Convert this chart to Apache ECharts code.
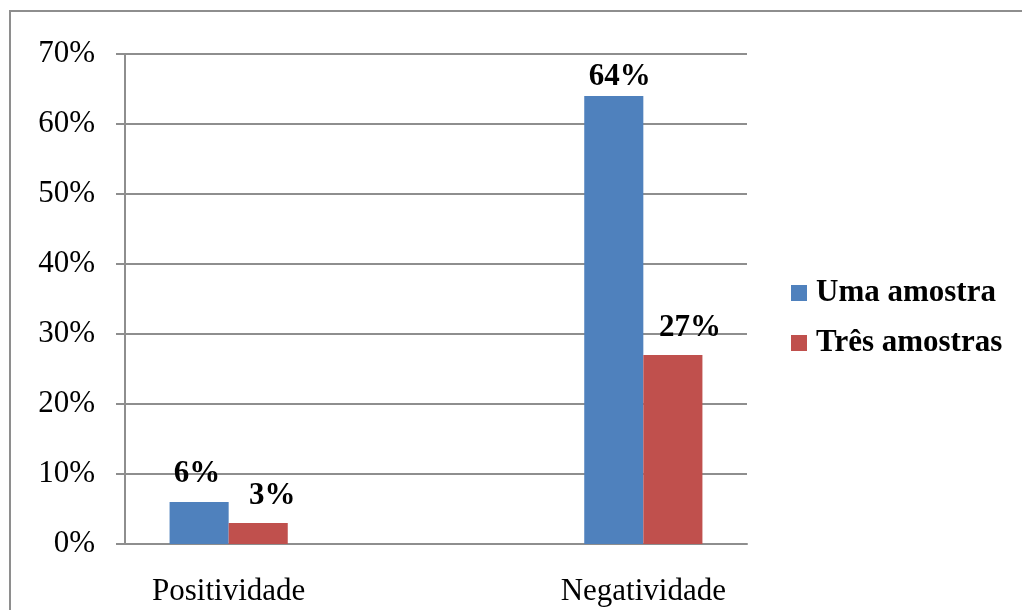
<!DOCTYPE html>
<html>
<head>
<meta charset="utf-8">
<script src="https://cdn.jsdelivr.net/npm/echarts@6/dist/echarts.min.js"></script>
<style>
  html, body { margin: 0; padding: 0; background: #fff; }
  #chart { width: 1022px; height: 610px; }
</style>
</head>
<body>
<div id="chart"></div>
<script>
// Categories (the middle slot is intentionally empty)
const categories = ['Positividade', '', 'Negatividade'];
// Percentages per series
const umaAmostra = [6, null, 64];
const tresAmostras = [3, null, 27];
const seriesNames = ['Uma amostra', 'Três amostras'];

const serif = '"Liberation Serif", "DejaVu Serif", serif';
const gridColor = '#8e8e8e';
const colors = ['#4f81bd', '#c0504d'];

// Hand-placed value labels: [dx, dy] nudges per bar
const labelNudges = [
  [[-2, -9], null, [6, 0]],
  [[14, -8], null, [17, -8]]
];

const chart = echarts.init(document.getElementById('chart'));

function barData(values, nudges) {
  return values.map((v, i) => {
    if (v === null) return null;
    const n = nudges[i] || [0, 0];
    return { value: v, label: { offset: n } };
  });
}

const labelStyle = {
  show: true,
  position: 'top',
  distance: 4,
  formatter: p => p.value + '%',
  fontFamily: serif,
  fontWeight: 'bold',
  fontSize: 31,
  color: '#000'
};

chart.setOption({
  backgroundColor: '#fff',
  animation: false,
  graphic: [{
    type: 'rect',
    shape: { x: 10, y: 11, width: 1040, height: 640 },
    style: { fill: 'none', stroke: gridColor, lineWidth: 2 },
    silent: true
  }],
  grid: { left: 125, right: 275, top: 54, bottom: 66 },
  legend: {
    orient: 'vertical',
    left: 786,
    top: 271,
    icon: 'rect',
    itemWidth: 16,
    itemHeight: 16,
    itemGap: 16,
    textStyle: {
      fontFamily: serif,
      fontWeight: 'bold',
      fontSize: 31,
      color: '#000',
      lineHeight: 34,
      padding: [0, 0, 0, 4]
    },
    data: seriesNames
  },
  xAxis: {
    type: 'category',
    data: categories,
    axisLine: { lineStyle: { color: gridColor, width: 2 } },
    axisTick: { length: 8, lineStyle: { color: gridColor, width: 2 } },
    axisLabel: { fontFamily: serif, fontSize: 31, color: '#000', margin: 32 }
  },
  yAxis: {
    type: 'value',
    min: 0,
    max: 70,
    interval: 10,
    axisLine: { show: true, lineStyle: { color: gridColor, width: 2 } },
    axisTick: { show: true, length: 9, lineStyle: { color: gridColor, width: 2 } },
    splitLine: { lineStyle: { color: gridColor, width: 2 } },
    axisLabel: {
      fontFamily: serif,
      fontSize: 31,
      color: '#000',
      margin: 30,
      formatter: v => v + '%'
    }
  },
  series: [
    {
      name: seriesNames[0],
      type: 'bar',
      data: barData(umaAmostra, labelNudges[0]),
      barGap: '0%',
      barCategoryGap: '43%',
      itemStyle: { color: colors[0] },
      label: labelStyle
    },
    {
      name: seriesNames[1],
      type: 'bar',
      data: barData(tresAmostras, labelNudges[1]),
      itemStyle: { color: colors[1] },
      label: labelStyle
    }
  ]
});
</script>
</body>
</html>
